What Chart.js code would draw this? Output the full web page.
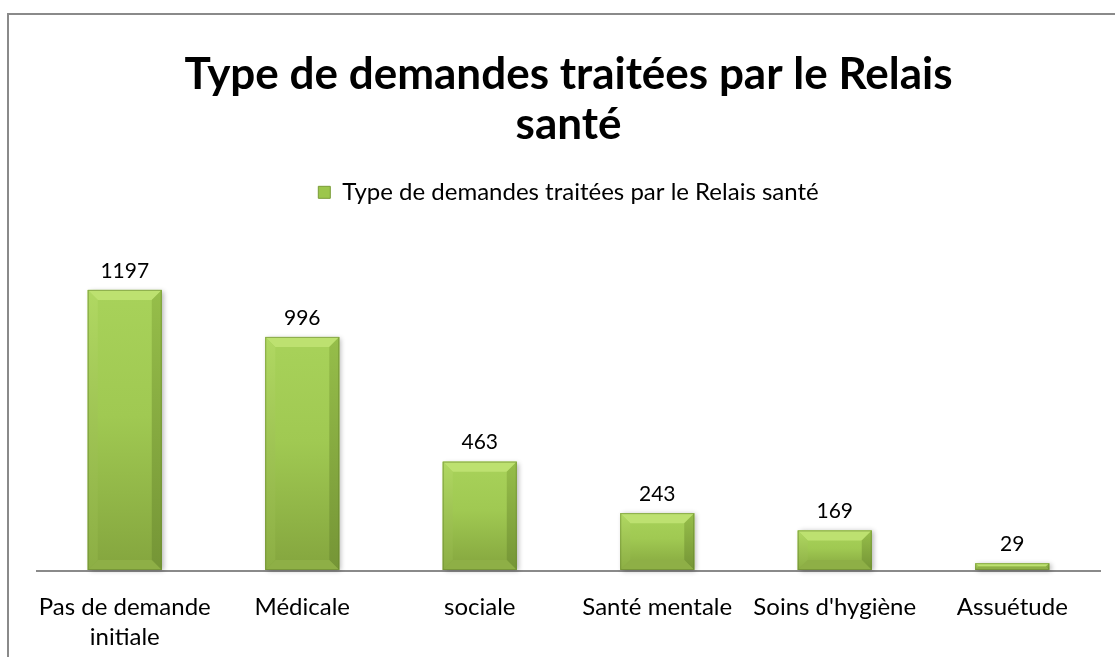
<!DOCTYPE html>
<html><head><meta charset="utf-8">
<script src="https://cdn.jsdelivr.net/npm/chart.js@4.4.0/dist/chart.umd.min.js"></script>
<style>
html,body{margin:0;padding:0;background:#fff;overflow:hidden;}
#wrap{position:relative;width:1115px;height:657px;overflow:hidden;}
#frame{position:absolute;left:7px;top:13px;width:1120px;height:660px;border-left:2px solid #8a8a8a;border-top:2px solid #8a8a8a;}
canvas{position:absolute;left:0;top:0;}
</style></head><body>
<div id="wrap"><div id="frame"></div><canvas id="c" width="1115" height="674"></canvas></div>
<script>
const categories = [['Pas de demande','initiale'], 'Médicale', 'sociale', 'Santé mentale', "Soins d'hygiène", 'Assuétude'];
const values = [1197, 996, 463, 243, 169, 29];
const seriesName = 'Type de demandes traitées par le Relais santé';
const titleLines = ['Type de demandes traitées par le Relais', 'santé'];

const FONT = "Lato";

const axisPlugin = {
  id: 'axisLine',
  beforeDatasetsDraw(chart) {
    const ctx = chart.ctx, xs = chart.scales.x, ys = chart.scales.y;
    const n = categories.length;
    const step = (xs.getPixelForValue(n - 1) - xs.getPixelForValue(0)) / (n - 1);
    const left = xs.getPixelForValue(0) - step / 2;
    const right = xs.getPixelForValue(n - 1) + step / 2;
    const y = ys.getPixelForValue(0) + 1;
    ctx.save();
    ctx.strokeStyle = '#8a8a8a';
    ctx.lineWidth = 2;
    ctx.beginPath();
    ctx.moveTo(left, y);
    ctx.lineTo(right, y);
    ctx.stroke();
    ctx.restore();
  }
};

const bevelPlugin = {
  id: 'bevel',
  afterDatasetsDraw(chart) {
    const ctx = chart.ctx;
    const meta = chart.getDatasetMeta(0);
    meta.data.forEach((bar, i) => {
      const x0 = bar.x - bar.width / 2, x1 = bar.x + bar.width / 2;
      const y0 = bar.y, y1 = bar.base;
      const h = y1 - y0;
      const b = Math.min(10, h / 2, bar.width / 2);
      ctx.save();
      ctx.shadowColor = 'rgba(0,0,0,0.3)';
      ctx.shadowBlur = 5;
      ctx.shadowOffsetX = 2;
      ctx.shadowOffsetY = 1;
      ctx.fillStyle = '#9cc64c';
      ctx.fillRect(x0, y0, x1 - x0, h);
      ctx.restore();
      ctx.save();
      const g = ctx.createLinearGradient(0, y0, 0, y1);
      g.addColorStop(0, '#a8d25a');
      g.addColorStop(0.45, '#a0c952');
      g.addColorStop(1, '#84a53e');
      ctx.fillStyle = g;
      ctx.fillRect(x0, y0, x1 - x0, h);
      ctx.fillStyle = '#bde170';
      ctx.beginPath();
      ctx.moveTo(x0, y0); ctx.lineTo(x1, y0); ctx.lineTo(x1 - b, y0 + b); ctx.lineTo(x0 + b, y0 + b); ctx.closePath(); ctx.fill();
      const gl = ctx.createLinearGradient(0, y0, 0, y1);
      gl.addColorStop(0, '#b0d862'); gl.addColorStop(1, '#8cae44');
      ctx.fillStyle = gl;
      ctx.beginPath();
      ctx.moveTo(x0, y0); ctx.lineTo(x0 + b, y0 + b); ctx.lineTo(x0 + b, y1 - b); ctx.lineTo(x0, y1); ctx.closePath(); ctx.fill();
      const gr = ctx.createLinearGradient(0, y0, 0, y1);
      gr.addColorStop(0, '#96be4a'); gr.addColorStop(1, '#759536');
      ctx.fillStyle = gr;
      ctx.beginPath();
      ctx.moveTo(x1, y0); ctx.lineTo(x1 - b, y0 + b); ctx.lineTo(x1 - b, y1 - b); ctx.lineTo(x1, y1); ctx.closePath(); ctx.fill();
      ctx.fillStyle = '#8eaf46';
      ctx.beginPath();
      ctx.moveTo(x0, y1); ctx.lineTo(x1, y1); ctx.lineTo(x1 - b, y1 - b); ctx.lineTo(x0 + b, y1 - b); ctx.closePath(); ctx.fill();
      ctx.strokeStyle = 'rgba(100,130,45,0.55)';
      ctx.lineWidth = 1;
      ctx.strokeRect(x0 + 0.5, y0 + 0.5, x1 - x0 - 1, h - 1);
      ctx.fillStyle = '#000';
      ctx.font = '21px ' + FONT;
      ctx.textAlign = 'center';
      ctx.textBaseline = 'middle';
      ctx.fillText(String(values[i]), bar.x, y0 - 19);
      ctx.restore();
    });
  }
};

new Chart(document.getElementById('c'), {
  type: 'bar',
  data: {
    labels: categories,
    datasets: [{
      label: seriesName,
      data: values,
      backgroundColor: 'rgba(0,0,0,0)',
      borderWidth: 0,
      categoryPercentage: 1,
      barPercentage: 0.417
    }]
  },
  options: {
    responsive: false,
    devicePixelRatio: 1,
    animation: false,
    layout: { padding: { left: 36, right: 14, top: 0, bottom: 0 } },
    plugins: {
      title: {
        display: true,
        text: titleLines,
        color: '#000',
        font: { family: FONT, size: 44, weight: 'bold', lineHeight: 1.14 },
        padding: { top: 50, bottom: 20 }
      },
      legend: {
        display: true,
        labels: {
          color: '#000',
          font: { family: FONT, size: 24 },
          boxWidth: 12,
          boxHeight: 12,
          padding: 10,
          generateLabels: () => [{
            text: seriesName,
            fillStyle: '#9cc64c',
            strokeStyle: '#7a9c38',
            lineWidth: 1,
            datasetIndex: 0
          }]
        }
      },
      tooltip: { enabled: false }
    },
    scales: {
      x: {
        grid: { display: false, drawTicks: false },
        border: { display: false },
        ticks: {
          color: '#000',
          font: { family: FONT, size: 24, lineHeight: 1.25 },
          padding: 22,
          maxRotation: 0,
          autoSkip: false
        }
      },
      y: {
        display: false,
        min: 0,
        max: 1520
      }
    }
  },
  plugins: [axisPlugin, bevelPlugin]
});
</script>
</body></html>
